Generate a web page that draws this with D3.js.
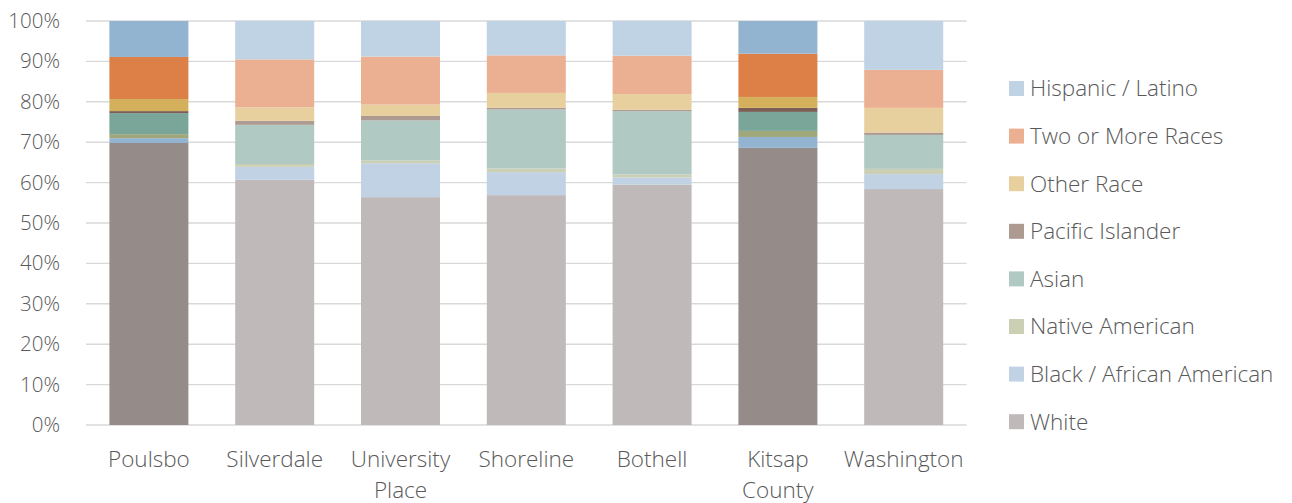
<!DOCTYPE html>
<html>
<head>
<meta charset="utf-8">
<script src="https://cdn.jsdelivr.net/npm/d3@7"></script>
<style>
  html, body { margin: 0; padding: 0; background: #ffffff; }
  svg text { font-family: "Open Sans", "Segoe UI", sans-serif; font-weight: 300; fill: #595959; }
</style>
</head>
<body>
<svg id="chart" width="1292" height="503"></svg>
<script>
// Places compared
const places = ["Poulsbo", "Silverdale", "University Place", "Shoreline", "Bothell", "Kitsap County", "Washington"];
// Label lines under each bar
const placeLabels = [["Poulsbo"], ["Silverdale"], ["University", "Place"], ["Shoreline"], ["Bothell"], ["Kitsap", "County"], ["Washington"]];

// Race / ethnicity groups, bottom of the stack first
const groups = ["White", "Black / African American", "Native American", "Asian", "Pacific Islander", "Other Race", "Two or More Races", "Hispanic / Latino"];

// Share of population (%) per group, in the order of places
const white    = [69.8, 60.7, 56.4, 56.9, 59.5, 68.6, 58.4];
const black    = [1.2, 3.2, 8.4, 5.7, 1.8, 2.7, 3.7];
const native   = [1.0, 0.7, 0.7, 0.9, 0.7, 1.5, 1.3];
const asian    = [5.2, 9.7, 9.9, 14.6, 15.7, 4.7, 8.4];
const pacific  = [0.5, 1.0, 1.1, 0.4, 0.3, 1.0, 0.6];
const other    = [3.0, 3.3, 2.8, 3.7, 3.9, 2.7, 6.1];
const twoPlus  = [10.4, 11.9, 11.9, 9.3, 9.5, 10.7, 9.4];
const hispanic = [8.9, 9.5, 8.8, 8.5, 8.6, 8.1, 12.1];

// Y-axis tick values (%)
const yTicks = [0, 10, 20, 30, 40, 50, 60, 70, 80, 90, 100];

// Places drawn with the saturated palette
const highlighted = ["Poulsbo", "Kitsap County"];

const seriesValues = [white, black, native, asian, pacific, other, twoPlus, hispanic];

const lightColors = ["#bfb9b9", "#c0d2e3", "#cbcfb4", "#b0c9c2", "#ad9a91", "#e7d09e", "#ebb092", "#c0d3e4"];
const darkColors  = ["#958b89", "#93b4d1", "#a0a77b", "#7aa599", "#7b5f57", "#d5b05c", "#dc8047", "#93b4d1"];

const rows = places.map((p, i) => {
  const r = { place: p };
  groups.forEach((g, k) => { r[g] = seriesValues[k][i]; });
  return r;
});

const stacked = d3.stack().keys(groups)(rows);

const svg = d3.select("#chart");
const plot = { left: 86, right: 966.6, top: 21, bottom: 425 };

const x = d3.scaleBand()
  .domain(places)
  .range([plot.left, plot.right])
  .paddingInner(0.372)
  .paddingOuter(0.186);

const y = d3.scaleLinear().domain([0, 100]).range([plot.bottom, plot.top]);

// Horizontal gridlines
svg.append("g")
  .selectAll("line")
  .data(yTicks)
  .join("line")
  .attr("x1", plot.left)
  .attr("x2", plot.right)
  .attr("y1", d => y(d))
  .attr("y2", d => y(d))
  .attr("stroke", "#d9d9d9")
  .attr("stroke-width", 1.4);

// Y-axis labels
const yAxis = svg.append("g")
  .attr("transform", `translate(${plot.left - 26},0)`)
  .call(d3.axisLeft(y).tickValues(yTicks).tickFormat(d => d + "%").tickSize(0).tickPadding(0));
yAxis.select(".domain").remove();
yAxis.selectAll("text")
  .attr("font-size", 20.5)
  .attr("font-family", "\"Open Sans\", sans-serif")
  .attr("font-weight", 300)
  .attr("fill", "#595959");

// Stacked bars
svg.append("g")
  .selectAll("g")
  .data(stacked)
  .join("g")
  .each(function (layer, k) {
    d3.select(this).selectAll("rect")
      .data(layer)
      .join("rect")
      .attr("x", d => x(d.data.place))
      .attr("width", x.bandwidth())
      .attr("y", d => y(d[1]))
      .attr("height", d => y(d[0]) - y(d[1]))
      .attr("fill", d => highlighted.includes(d.data.place) ? darkColors[k] : lightColors[k]);
  });

// Category labels
const xl = svg.append("g")
  .selectAll("text")
  .data(places)
  .join("text")
  .attr("text-anchor", "middle")
  .attr("font-size", 22.5)
  .attr("x", d => x(d) + x.bandwidth() / 2)
  .attr("y", 467);
xl.each(function (d, i) {
  const t = d3.select(this);
  placeLabels[i].forEach((line, j) => {
    t.append("tspan")
      .attr("x", x(d) + x.bandwidth() / 2)
      .attr("dy", j === 0 ? 0 : 30.5)
      .text(line);
  });
});

// Legend, top entry is the top of the stack
const legendGroups = groups.slice().reverse();
const legend = svg.append("g").attr("transform", "translate(1009,81)");
legendGroups.forEach((g, i) => {
  const k = groups.indexOf(g);
  const row = legend.append("g").attr("transform", `translate(0,${i * 47.6})`);
  row.append("rect")
    .attr("width", 15).attr("height", 15)
    .attr("fill", lightColors[k]);
  row.append("text")
    .attr("x", 21)
    .attr("y", 7.5)
    .attr("dy", "0.35em")
    .attr("font-size", 22.5)
    .text(g);
});
</script>
</body>
</html>
